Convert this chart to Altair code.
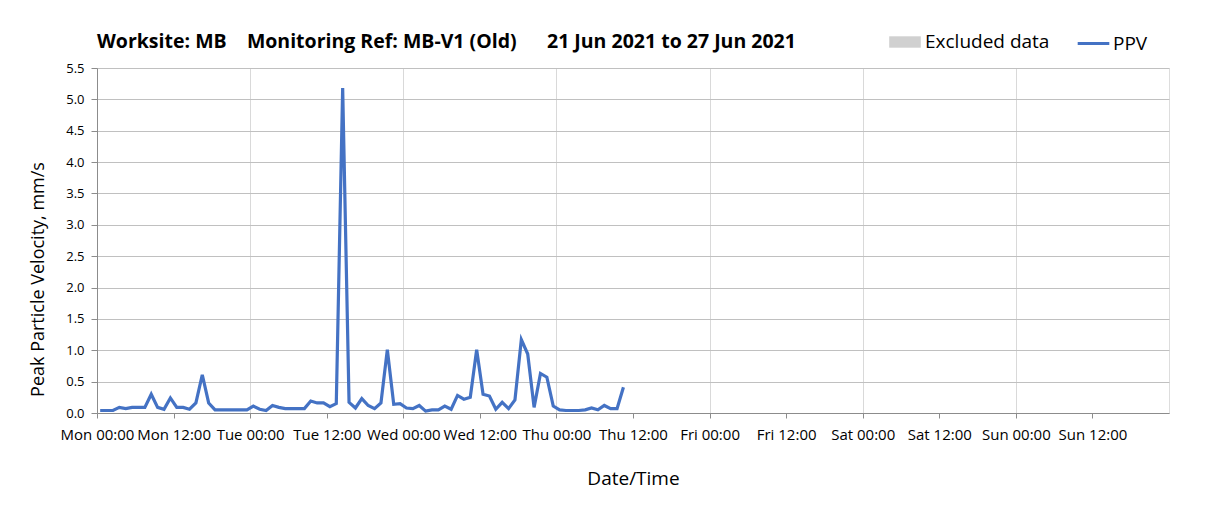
import altair as alt
import pandas as pd

# Hourly PPV readings (mm/s), starting Mon 21 Jun 2021 00:30
ppv = [0.04, 0.04, 0.04, 0.09, 0.07, 0.09, 0.09, 0.09, 0.30, 0.09, 0.06, 0.24,
       0.09, 0.09, 0.06, 0.16, 0.61, 0.16, 0.05, 0.05, 0.05, 0.05, 0.05, 0.05,
       0.11, 0.06, 0.04, 0.12, 0.09, 0.07, 0.07, 0.07, 0.07, 0.19, 0.16, 0.16,
       0.10, 0.15, 5.18, 0.17, 0.08, 0.23, 0.12, 0.07, 0.16, 1.01, 0.14, 0.15,
       0.08, 0.07, 0.12, 0.03, 0.05, 0.05, 0.11, 0.06, 0.28, 0.22, 0.25, 1.01,
       0.30, 0.27, 0.06, 0.17, 0.07, 0.21, 1.17, 0.94, 0.09, 0.63, 0.57, 0.11,
       0.05, 0.04, 0.04, 0.04, 0.05, 0.08, 0.05, 0.12, 0.07, 0.07, 0.41]
start_time = "2021-06-21 00:30"
# No excluded periods in this week
excluded_start = []
excluded_end = []
y_ticks = [0.0, 0.5, 1.0, 1.5, 2.0, 2.5, 3.0, 3.5, 4.0, 4.5, 5.0, 5.5]

times = pd.date_range(start_time, periods=len(ppv), freq="h")
df = pd.DataFrame({
    "time": times.strftime("%Y-%m-%dT%H:%M:%S"),
    "ppv": ppv,
    "series": "PPV",
})
excl_rows = [{"start": s, "end": e, "series": "Excluded data"}
             for s, e in zip(excluded_start, excluded_end)]

x_ticks = []
for d in range(21, 28):
    for hr in (0, 12):
        x_ticks.append(alt.DateTime(year=2021, month=6, date=d, hours=hr))

FONT = "Open Sans"

title_text = ("Worksite: MB\u00a0\u00a0\u00a0\u00a0Monitoring Ref: MB-V1 (Old)"
              "\u00a0\u00a0\u00a0\u00a0\u00a0\u00a021 Jun 2021 to 27 Jun 2021")

x_enc = alt.X(
    "time:T",
    scale=alt.Scale(domain=[alt.DateTime(year=2021, month=6, date=21, hours=0),
                            alt.DateTime(year=2021, month=6, date=28, hours=0)]),
    axis=alt.Axis(
        values=x_ticks, format="%a %H:%M", labelFont=FONT, labelFontSize=15,
        labelColor="#000000", labelPadding=9, labelOverlap=False, labelFlush=False,
        tickColor="#8c8c8c", tickSize=5, domainColor="#8c8c8c",
        gridColor="#d9d9d9",
        gridOpacity={"condition": {"test": "hours(datum.value) === 0", "value": 1}, "value": 0},
        title="Date/Time", titleFont=FONT, titleFontSize=19, titleFontWeight="normal",
        titleColor="#000000", titlePadding=27,
    ),
)
y_scale = alt.Scale(domain=[0, 5.5], nice=False)

excl = alt.Chart(alt.Data(values=excl_rows)).mark_rect(opacity=0.8).encode(
    x="start:T",
    x2="end:T",
    y=alt.value(0),
    y2=alt.value(345),
    fill=alt.Fill(
        "series:N",
        scale=alt.Scale(domain=["Excluded data"], range=["#d0d0d0"]),
        legend=alt.Legend(
            orient="none", legendX=792, legendY=-42, direction="horizontal", title=None,
            labelFont=FONT, labelFontSize=19, labelColor="#000000", symbolSize=1000,
            symbolType="M-1,-0.36H1V0.36H-1Z", symbolStrokeWidth=0, symbolOpacity=1,
            labelOffset=4, padding=0,
        ),
    ),
)

line = alt.Chart(df).mark_line(strokeWidth=3.2).encode(
    x=x_enc,
    y=alt.Y(
        "ppv:Q",
        scale=y_scale,
        axis=alt.Axis(
            values=y_ticks, format=".1f", labelFont=FONT, labelFontSize=13,
            labelColor="#000000", labelPadding=7, tickColor="#8c8c8c", tickSize=6,
            domainColor="#8c8c8c", gridColor="#c0c0c0",
            title="Peak Particle Velocity, mm/s", titleFont=FONT, titleFontSize=18,
            titleFontWeight="normal", titleColor="#000000", titlePadding=18,
            titleY=211,
        ),
    ),
    stroke=alt.Stroke(
        "series:N",
        scale=alt.Scale(domain=["PPV"], range=["#4472c4"]),
        legend=alt.Legend(
            orient="none", legendX=979, legendY=-42, direction="horizontal", title=None,
            labelFont=FONT, labelFontSize=19, labelColor="#000000", symbolSize=1000,
            symbolType="stroke", symbolStrokeWidth=3, labelOffset=2, padding=0,
        ),
    ),
)

chart = alt.layer(line, excl).properties(
    width=1072,
    height=345,
    title=alt.TitleParams(text=title_text, anchor="start", frame="group", fontSize=19.5,
                          fontWeight="bold", font=FONT, color="#000000", offset=18, dy=44),
    autosize=alt.AutoSizeParams(type="none"),
    padding={"left": 89, "top": 60, "right": 40, "bottom": 80},
).configure_view(stroke="#c0c0c0").configure(background="white")

chart.save("out.html", embed_options={"renderer": "svg", "actions": False})
